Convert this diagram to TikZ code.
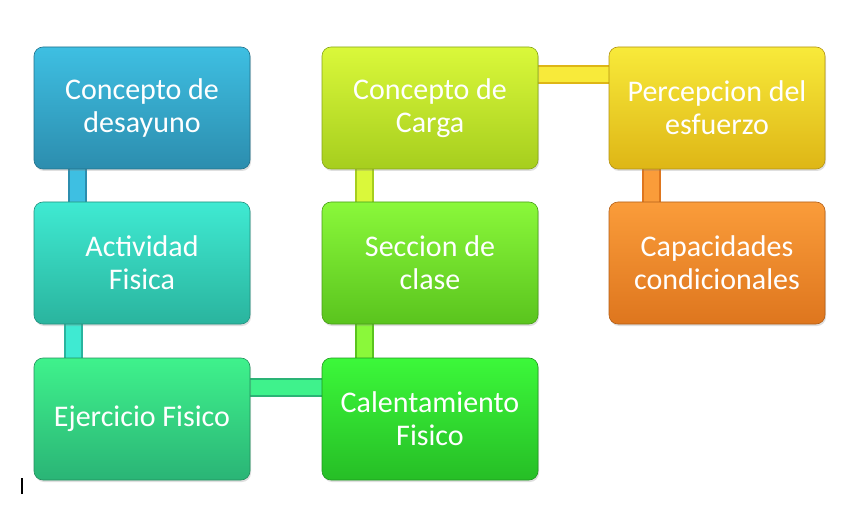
\documentclass[tikz,border=0pt]{standalone}
\usepackage{fontspec}
\setmainfont{Carlito}
\usepackage{xcolor}
\usetikzlibrary{calc,backgrounds,shadows}

\definecolor{azulA}{HTML}{3EBFE2}
\definecolor{azulB}{HTML}{2C8DAE}
\definecolor{turqA}{HTML}{3FEAD2}
\definecolor{turqB}{HTML}{2AB49E}
\definecolor{verdeA}{HTML}{3FF28C}
\definecolor{verdeB}{HTML}{2AB476}
\definecolor{limaA}{HTML}{DAF83A}
\definecolor{limaB}{HTML}{A6CE1E}
\definecolor{pastoA}{HTML}{8AF83A}
\definecolor{pastoB}{HTML}{5AC41E}
\definecolor{vivoA}{HTML}{3CF83A}
\definecolor{vivoB}{HTML}{26BE26}
\definecolor{oroA}{HTML}{F8EA3A}
\definecolor{oroB}{HTML}{DEB616}
\definecolor{naranjaA}{HTML}{FA9C3A}
\definecolor{naranjaB}{HTML}{DE761E}

\tikzset{
	caja/.style={rounded corners=9pt, minimum width=216pt, minimum height=122pt,
		inner sep=0pt, align=center, text=white, line width=0.6pt,
		font=\fontsize{30}{33}\selectfont,
		drop shadow={opacity=0.25, shadow xshift=1pt, shadow yshift=-2pt}},
	enlace/.style={line width=2pt, double distance=15pt},
}

\begin{document}
\begin{tikzpicture}[x=1pt,y=1pt]
				\useasboundingbox (0,0) rectangle (859,504);
				\coordinate (P1) at (142,396);
				\coordinate (P2) at (142,241);
				\coordinate (P3) at (142,85);
				\coordinate (Q1) at (430,396);
				\coordinate (Q2) at (430,241);
				\coordinate (Q3) at (430,85);
				\coordinate (R1) at (717,396);
				\coordinate (R2) at (717,241);
				\node[caja, top color=azulA, bottom color=azulB, draw=azulB!80!black] (desayuno) at (P1) {Concepto de\\desayuno};
				\node[caja, top color=turqA, bottom color=turqB, draw=turqB!80!black] (actividad) at (P2) {Actividad\\Fisica};
				\node[caja, top color=verdeA, bottom color=verdeB, draw=verdeB!80!black] (ejercicio) at (P3) {Ejercicio Fisico};
				\node[caja, top color=vivoA, bottom color=vivoB, draw=vivoB!80!black] (calentamiento) at (Q3) {Calentamiento\\Fisico};
				\node[caja, top color=pastoA, bottom color=pastoB, draw=pastoB!80!black] (seccion) at (Q2) {Seccion de\\clase};
				\node[caja, top color=limaA, bottom color=limaB, draw=limaB!80!black] (carga) at (Q1) {Concepto de\\Carga};
				\node[caja, top color=oroA, bottom color=oroB, draw=oroB!80!black] (percepcion) at (R1) {Percepcion del\\esfuerzo};
				\node[caja, top color=naranjaA, bottom color=naranjaB, draw=naranjaB!80!black] (capacidades) at (R2) {Capacidades\\condicionales};
				\begin{scope}[on background layer]
					\draw[enlace, draw=azulB, double=azulA] ([xshift=44pt]desayuno.south west) -- ([xshift=44pt]actividad.north west);
					\draw[enlace, draw=turqB, double=turqA] ([xshift=40pt]actividad.south west) -- ([xshift=40pt]ejercicio.north west);
					\draw[enlace, draw=verdeB, double=verdeA] ([yshift=-30pt]ejercicio.north east) -- ([yshift=-30pt]calentamiento.north west);
					\draw[enlace, draw=pastoB, double=pastoA] ([xshift=43pt]calentamiento.north west) -- ([xshift=43pt]seccion.south west);
					\draw[enlace, draw=limaB, double=limaA] ([xshift=43pt]seccion.north west) -- ([xshift=43pt]carga.south west);
					\draw[enlace, draw=oroB, double=oroA] ([yshift=-28pt]carga.north east) -- ([yshift=-28pt]percepcion.north west);
					\draw[enlace, draw=naranjaB, double=naranjaA] ([xshift=43pt]percepcion.south west) -- ([xshift=43pt]capacidades.north west);
				\end{scope}
				\coordinate (cursor) at (22,10);
				\draw[line width=1.2pt] (cursor) -- ++(0,16);
			\end{tikzpicture}
\end{document}
